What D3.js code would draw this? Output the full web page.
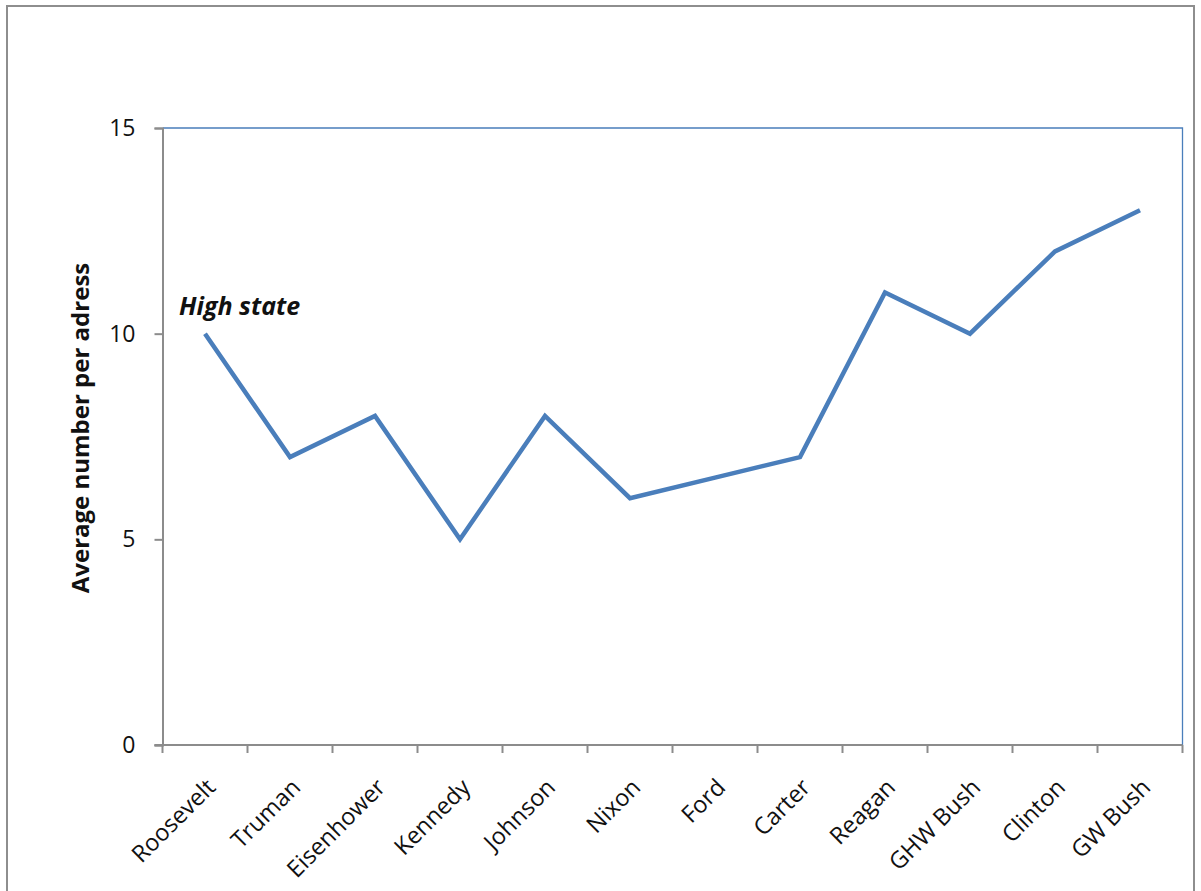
<!DOCTYPE html>
<html>
<head>
<meta charset="utf-8">
<script src="https://cdn.jsdelivr.net/npm/d3@7"></script>
<style>
  body { margin: 0; background: #fff; }
  svg { display: block; }
</style>
</head>
<body>
<div id="chart"></div>
<script>
var width = 1201,
    height = 891;

// data
var presidents = ["Roosevelt", "Truman", "Eisenhower", "Kennedy", "Johnson", "Nixon", "Ford", "Carter", "Reagan", "GHW Bush", "Clinton", "GW Bush"];
var averages = [10, 7, 8, 5, 8, 6, 6.5, 7, 11, 10, 12, 13];
var yTicks = [0, 5, 10, 15];

var margin = {top: 128, right: 18.5, bottom: 146, left: 162.5};
var font = "'Open Sans', 'Noto Sans', sans-serif";

var svg = d3.select('#chart')
    .append('svg')
    .attr('xmlns', 'http://www.w3.org/2000/svg')
    .attr('width', width)
    .attr('height', height);

// outer frame
svg.append('rect')
    .attr('x', 7)
    .attr('y', 6)
    .attr('width', 1187)
    .attr('height', 900)
    .style('fill', 'none')
    .style('stroke', '#8e8e8e')
    .style('stroke-width', 2);

var x = d3.scaleBand()
    .domain(presidents)
    .range([margin.left, width - margin.right]);

var y = d3.scaleLinear()
    .domain([0, 15])
    .range([height - margin.bottom, margin.top]);

// top and right border of plot (blue)
svg.append('path')
    .attr('d', 'M' + x.range()[0] + ',' + y(15) + 'H' + x.range()[1] + 'V' + y(0))
    .style('fill', 'none')
    .style('stroke', '#4a7ebb')
    .style('stroke-width', 1.3);

// y axis
var yAxis = svg.append('g')
    .attr('transform', 'translate(' + margin.left + ',0)')
    .call(d3.axisLeft(y).tickValues(yTicks).tickSize(8).tickPadding(19));
yAxis.select('.domain').style('stroke', '#8c8c8c').style('stroke-width', 2);
yAxis.selectAll('.tick line').style('stroke', '#8c8c8c').style('stroke-width', 2);
yAxis.selectAll('.tick text')
    .style('font-family', font)
    .style('font-size', '23px')
    .style('fill', '#111');

// x axis with boundary ticks
var xAxis = svg.append('g')
    .attr('transform', 'translate(0,' + y(0) + ')');
xAxis.append('line')
    .attr('x1', x.range()[0] - 8)
    .attr('x2', x.range()[1])
    .style('stroke', '#8c8c8c')
    .style('stroke-width', 2);
var edges = presidents.map(function (d) { return x(d); }).concat([x.range()[1]]);
xAxis.selectAll('.edge')
    .data(edges)
    .enter().append('line')
    .attr('class', 'edge')
    .attr('x1', function (d) { return d; })
    .attr('x2', function (d) { return d; })
    .attr('y1', 0)
    .attr('y2', 8)
    .style('stroke', '#8c8c8c')
    .style('stroke-width', 2);
xAxis.selectAll('.lbl')
    .data(presidents)
    .enter().append('text')
    .attr('class', 'lbl')
    .attr('transform', function (d) {
        return 'translate(' + (x(d) + x.bandwidth() / 2 + 6) + ',38) rotate(-45)';
    })
    .attr('text-anchor', 'end')
    .attr('dy', '0.35em')
    .style('font-family', font)
    .style('font-size', '23.5px')
    .style('fill', '#111')
    .text(function (d) { return d; });

// y axis title
svg.append('text')
    .attr('transform', 'translate(89,428) rotate(-90)')
    .attr('text-anchor', 'middle')
    .style('font-family', font)
    .style('font-size', '24px')
    .style('font-weight', 'bold')
    .style('fill', '#111')
    .text('Average number per adress');

// line
var line = d3.line()
    .x(function (d, i) { return x(presidents[i]) + x.bandwidth() / 2; })
    .y(function (d) { return y(d); });

svg.append('path')
    .datum(averages)
    .attr('d', line)
    .style('fill', 'none')
    .style('stroke', '#4a7ebb')
    .style('stroke-width', 4.5)
    .style('stroke-linejoin', 'miter');

// annotation
svg.append('text')
    .attr('x', x(presidents[0]) + x.bandwidth() / 2 - 26)
    .attr('y', y(averages[0]) - 19)
    .style('font-family', font)
    .style('font-size', '25px')
    .style('font-weight', 'bold')
    .style('font-style', 'italic')
    .style('fill', '#111')
    .text('High state');
</script>
</body>
</html>
